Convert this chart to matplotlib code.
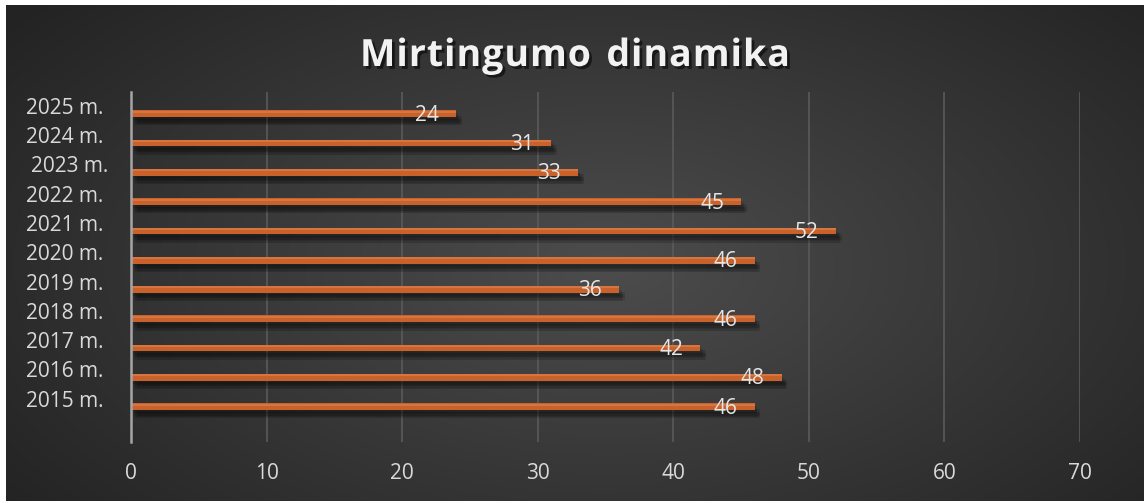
import numpy as np
import matplotlib
matplotlib.use("Agg")
import matplotlib.pyplot as plt
from matplotlib import patheffects as pe
from matplotlib.transforms import ScaledTranslation

# Data
years = ["2015 m.", "2016 m.", "2017 m.", "2018 m.", "2019 m.", "2020 m.",
         "2021 m.", "2022 m.", "2023 m.", "2024 m.", "2025 m."]
deaths = [46, 48, 42, 46, 36, 46, 52, 45, 33, 31, 24]
x_ticks = [0, 10, 20, 30, 40, 50, 60, 70]
title = "Mirtingumo dinamika"

W, H = 1144, 503
FONT = "Open Sans"
fig = plt.figure(figsize=(W / 100, H / 100), dpi=100, facecolor="white")

# Dark panel with a soft radial glow
bg = fig.add_axes([6 / W, 1 - 501 / H, (W - 6) / W, (501 - 5) / H])
bg.set_axis_off()
yy, xx = np.mgrid[0:496, 0:1138]
cx, cy = 600, 260
r = np.sqrt(((xx - cx) / 620.0) ** 2 + ((yy - cy) / 330.0) ** 2)
v = 0.30 - 0.16 * np.clip(r, 0, 1.2) / 1.2
img = np.dstack([v, v, v])
bg.imshow(img, aspect="auto", extent=[0, 1, 0, 1], interpolation="bilinear")
bg.set_xlim(0, 1)
bg.set_ylim(0, 1)

# Plot area
x0, x1 = 131, 1080
y_top, y_bot = 92, 442
ax = fig.add_axes([x0 / W, 1 - y_bot / H, (x1 - x0) / W, (y_bot - y_top) / H])
ax.set_facecolor("none")
ax.set_xlim(0, 70)
step = 29.3
c0 = 406.7  # centre of first bar in px
ax.set_ylim(-(y_bot - c0) / step, (c0 - y_top) / step)

pos = np.arange(len(years))
# soft blurred shadow built from stacked translucent layers
shadow = [pe.SimplePatchShadow(offset=(dx, dy), shadow_rgbFace="black", alpha=0.09)
          for dx, dy in [(1, -2), (2, -3), (3, -4), (2, -5), (4, -4), (3, -6), (4, -6)]]
bars = ax.barh(pos, deaths, height=0.23, color="#c8622a", zorder=3)
for b in bars:
    b.set_path_effects(shadow + [pe.Normal()])
# lighter top highlight on each bar
ax.barh(pos + 0.07, deaths, height=0.07, color="#d6753f", zorder=4, linewidth=0)

for p, v_ in zip(pos, deaths):
    ax.text(v_ - 2.14, p - 0.05, str(v_), ha="center", va="center", color="#e6e6e6",
            fontsize=15, family=FONT, zorder=5)

ax.set_xticks(x_ticks)
ax.set_xticklabels([str(t) for t in x_ticks])
ax.xaxis.grid(True, color="#5a5a5a", linewidth=1.2, zorder=0)
ax.yaxis.grid(False)
ax.set_yticks(pos)
ax.set_yticklabels(years)
ax.tick_params(axis="both", length=0, colors="#d9d9d9", labelsize=15)
ax.tick_params(axis="x", pad=15)
ax.tick_params(axis="y", pad=20)
for lab in ax.get_xticklabels() + ax.get_yticklabels():
    lab.set_family(FONT)
for s in ["top", "right", "bottom"]:
    ax.spines[s].set_visible(False)
ax.spines["left"].set_color("#a6a6a6")
ax.spines["left"].set_linewidth(1.8)
ax.spines["left"].set_zorder(6)
for lab in ax.get_yticklabels():
    lab.set_verticalalignment("baseline")
    if lab.get_text().startswith("2023"):
        lab.set_transform(lab.get_transform() + ScaledTranslation(0.05, 0, fig.dpi_scale_trans))

# Title drawn letter by letter for wide tracking
fig.canvas.draw()
renderer = fig.canvas.get_renderer()
tkw = dict(color="#f2f2f2", fontsize=27, fontweight="bold", family=FONT,
           va="baseline", ha="left",
           path_effects=[pe.withSimplePatchShadow(offset=(2, -2), shadow_rgbFace="black", alpha=0.55)])
widths = []
for ch in title:
    t = fig.text(0, 0, ch if ch != " " else "n", **tkw)
    wpx = t.get_window_extent(renderer).width
    widths.append(wpx * (0.55 if ch == " " else 1.0))
    t.remove()
left_px, right_px = 360, 790
spacing = (right_px - left_px - sum(widths)) / (len(title) - 1)
xp = left_px
for ch, wpx in zip(title, widths):
    if ch != " ":
        fig.text(xp / W, 1 - 66 / H, ch, **tkw)
    xp += wpx + spacing

fig.savefig("out.png", dpi=100, facecolor="white")
